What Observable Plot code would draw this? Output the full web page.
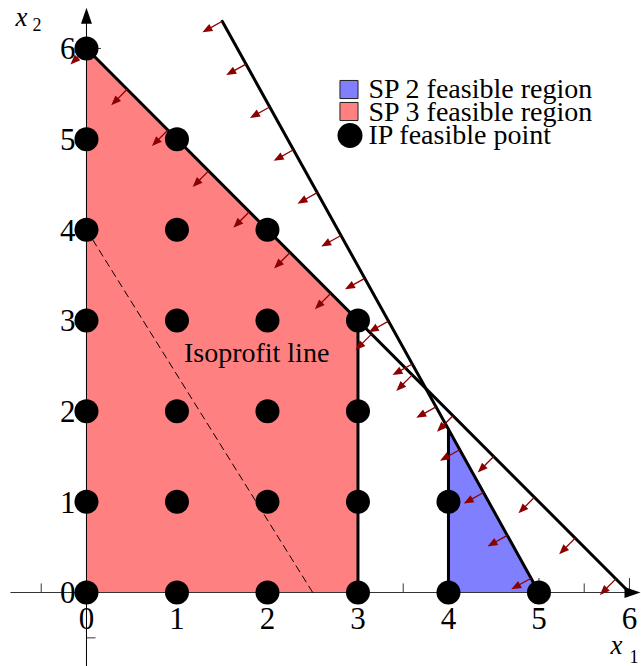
<!DOCTYPE html>
<html>
<head>
<meta charset="utf-8">
<script src="https://cdn.jsdelivr.net/npm/d3@7"></script>
<script src="https://cdn.jsdelivr.net/npm/@observablehq/plot@0.6"></script>
<style>
  html, body { margin: 0; padding: 0; background: #fff; }
  #chart { width: 641px; height: 666px; }
  #chart svg text { font-family: "Liberation Serif", "Times New Roman", serif; }
</style>
</head>
<body>
<div id="chart"></div>
<script>
// ---------- data ----------
// Constraint 1: x1 + x2 <= 6 (drawn segment endpoints)
const constraint1 = [{x: 0, y: 6}, {x: 6, y: 0}];
const normal1 = [1, 1];
// Constraint 2: 9 x1 + 5 x2 <= 45
const constraint2 = [{x: 1.5, y: 6.3}, {x: 5, y: 0}];
const normal2 = [9, 5];
// Isoprofit line 8 x1 + 5 x2 = 20
const isoprofit = [{x: 0, y: 4}, {x: 2.5, y: 0}];
// SP 3 feasible region (x1 <= 3): top boundary
const sp3Top = [{x: 0, y: 6}, {x: 3, y: 3}];
// SP 2 feasible region (x1 >= 4): top boundary
const sp2Top = [{x: 4, y: 1.8}, {x: 5, y: 0}];
// branching edges
const branchEdges = [{x: 3, top: 3}, {x: 4, top: 1.8}];
// IP feasible points
const ipX1 = [0,0,0,0,0,0,0, 1,1,1,1,1,1, 2,2,2,2,2, 3,3,3,3, 4,4, 5];
const ipX2 = [0,1,2,3,4,5,6, 0,1,2,3,4,5, 0,1,2,3,4, 0,1,2,3, 0,1, 0];
// arrow tails along constraint 1
const arrows1X = [0, 0.45, 0.9, 1.35, 1.8, 2.25, 2.7, 3.15, 3.6, 4.05, 4.5, 4.95, 5.4, 5.85];
const arrows1Y = [6, 5.55, 5.1, 4.65, 4.2, 3.75, 3.3, 2.85, 2.4, 1.95, 1.5, 1.05, 0.6, 0.15];
// arrow tails along constraint 2
const arrows2X = [1.5, 1.7625, 2.025, 2.2875, 2.55, 2.8125, 3.075, 3.3375, 3.6, 3.8625, 4.125, 4.3875, 4.65, 4.9125];
const arrows2Y = [6.3, 5.8275, 5.355, 4.8825, 4.41, 3.9375, 3.465, 2.9925, 2.52, 2.0475, 1.575, 1.1025, 0.63, 0.1575];
// ticks & labels
const tickLabels = [0, 1, 2, 3, 4, 5, 6];
const minorTicks = [-0.5, 0.5, 1.5, 2.5, 3.5, 4.5, 5.5];
const legendLabels = ["SP 2 feasible region", "SP 3 feasible region", "IP feasible point"];
const isoLabel = "Isoprofit line";

// ---------- derived tables ----------
const ipPoints = ipX1.map((x, i) => ({x, y: ipX2[i]}));
const ARROW_LEN = 0.25;
function arrowTable(xs, ys, n) {
  const len = Math.hypot(n[0], n[1]);
  const dx = -n[0] / len, dy = -n[1] / len;
  const angle = Math.atan2(dx, dy) * 180 / Math.PI;
  return xs.map((x, i) => ({
    x1: x, y1: ys[i],
    x2: x + dx * (ARROW_LEN - 0.05), y2: ys[i] + dy * (ARROW_LEN - 0.05),
    tx: x + dx * ARROW_LEN, ty: ys[i] + dy * ARROW_LEN,
    angle
  }));
}
const arrows = [...arrowTable(arrows1X, arrows1Y, normal1), ...arrowTable(arrows2X, arrows2Y, normal2)];

const smallTip = {draw(c) { c.moveTo(0, 0); c.lineTo(4, 10); c.lineTo(-4, 10); c.closePath(); }};
const axisTip = {draw(c) { c.moveTo(0, 0); c.lineTo(5.5, 16); c.lineTo(-5.5, 16); c.closePath(); }};

const RED = "rgb(255,128,128)";
const BLUE = "rgb(128,128,255)";
const DARKRED = "#8b0000";
const FONT = "Liberation Serif";

const T = (opts) => ({fontFamily: FONT, fill: "black", stroke: "none", ...opts});

const chart = Plot.plot({
  width: 641,
  height: 666,
  margin: 0,
  x: {domain: [-0.95, 6.133], axis: null},
  y: {domain: [-0.816, 6.529], axis: null},
  style: {fontFamily: FONT, background: "white", color: "black"},
  marks: [
    // ticks (drawn under regions)
    Plot.link(minorTicks, {x1: d => d, x2: d => d, y1: 0, y2: 0.1, stroke: "black", strokeWidth: 0.8}),
    Plot.link(tickLabels, {x1: d => d, x2: d => d, y1: 0, y2: 0.16, stroke: "black", strokeWidth: 0.8}),
    Plot.link(minorTicks, {x1: 0, x2: 0.1, y1: d => d, y2: d => d, stroke: "black", strokeWidth: 0.8}),
    Plot.link(tickLabels, {x1: 0, x2: 0.16, y1: d => d, y2: d => d, stroke: "black", strokeWidth: 0.8}),
    // regions
    Plot.areaY(sp3Top, {x: "x", y: "y", fill: RED, curve: "linear"}),
    Plot.areaY(sp2Top, {x: "x", y: "y", fill: BLUE, curve: "linear"}),
    // axes
    Plot.link([0], {x1: -0.84, x2: 6.05, y1: 0, y2: 0, stroke: "#333", strokeWidth: 1}),
    Plot.link([0], {x1: 0, x2: 0, y1: -0.82, y2: 6.38, stroke: "black", strokeWidth: 1}),
    Plot.dot([0], {x: 6.122, y: 0, symbol: axisTip, rotate: 90, fill: "black", stroke: "none"}),
    Plot.dot([0], {x: 0, y: 6.45, symbol: axisTip, rotate: 0, fill: "black", stroke: "none"}),
    // isoprofit
    Plot.line(isoprofit, {x: "x", y: "y", stroke: "black", strokeWidth: 1, strokeDasharray: "7,5"}),
    // constraint lines & branch edges
    Plot.line(constraint1, {x: "x", y: "y", stroke: "black", strokeWidth: 3}),
    Plot.line(constraint2, {x: "x", y: "y", stroke: "black", strokeWidth: 3}),
    Plot.ruleX(branchEdges, {x: "x", y1: 0, y2: "top", stroke: "black", strokeWidth: 3}),
    // direction arrows
    Plot.link(arrows, {x1: "x1", y1: "y1", x2: "x2", y2: "y2", stroke: DARKRED, strokeWidth: 1.3}),
    Plot.dot(arrows, {x: "tx", y: "ty", symbol: smallTip, rotate: "angle", fill: DARKRED, stroke: "none"}),
    // IP points
    Plot.dot(ipPoints, {x: "x", y: "y", r: 12, fill: "black", stroke: "none"}),
    // tick labels
    Plot.text(tickLabels, T({x: d => d, y: 0, dy: 27, text: d => String(d), fontSize: 31})),
    Plot.text(tickLabels, T({x: 0, y: d => d, dx: -11, dy: 1, text: d => String(d), fontSize: 31, textAnchor: "end"})),
    // isoprofit label
    Plot.text([isoLabel], T({x: 1.88, y: 2.64, text: d => d, fontSize: 28})),
    // axis names
    Plot.text(["x"], T({frameAnchor: "top-left", dx: 15, dy: 25, text: d => d, lineAnchor: "bottom", textAnchor: "start", fontStyle: "italic", fontSize: 27})),
    Plot.text(["2"], T({frameAnchor: "top-left", dx: 32, dy: 30, text: d => d, lineAnchor: "bottom", textAnchor: "start", fontSize: 18})),
    Plot.text(["x"], T({frameAnchor: "top-left", dx: 610, dy: 653, text: d => d, lineAnchor: "bottom", textAnchor: "start", fontStyle: "italic", fontSize: 27})),
    Plot.text(["1"], T({frameAnchor: "top-left", dx: 629, dy: 662, text: d => d, lineAnchor: "bottom", textAnchor: "start", fontSize: 18})),
    // legend
    Plot.dot([0], {frameAnchor: "top-left", dx: 348.5, dy: 89, symbol: "square", r: 10.2, fill: BLUE, stroke: "#222", strokeWidth: 1}),
    Plot.dot([0], {frameAnchor: "top-left", dx: 348.5, dy: 111, symbol: "square", r: 10.2, fill: RED, stroke: "#222", strokeWidth: 1}),
    Plot.dot([0], {frameAnchor: "top-left", dx: 349.5, dy: 135, r: 12.5, fill: "black", stroke: "none"}),
    ...legendLabels.map((label, i) =>
      Plot.text([label], T({frameAnchor: "top-left", dx: 368, dy: 97.5 + 23 * i, text: d => d, lineAnchor: "bottom", textAnchor: "start", fontSize: 28})))
  ]
});
document.getElementById("chart").appendChild(chart);
</script>
</body>
</html>
